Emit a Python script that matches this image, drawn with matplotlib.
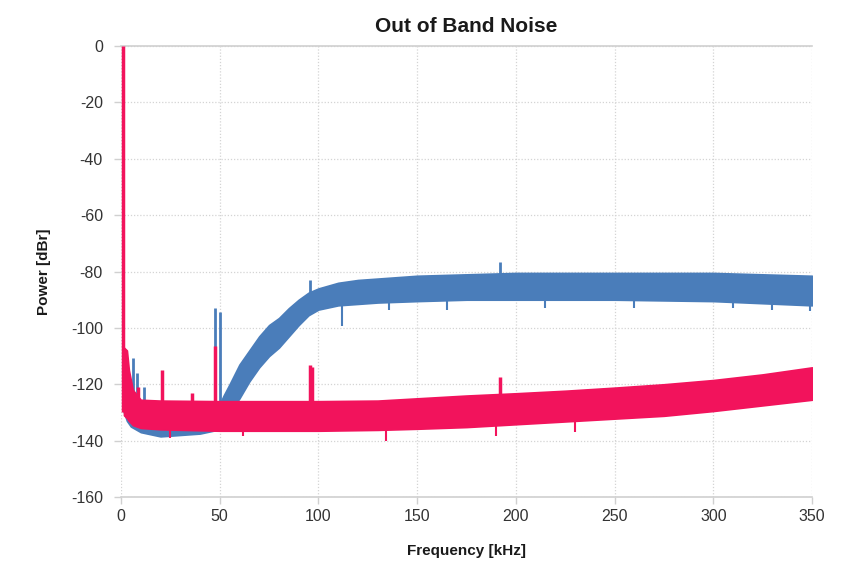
import matplotlib
matplotlib.use("Agg")
import matplotlib.pyplot as plt

# ---- data (kHz, dBr) ----
# blue trace: noise band envelope
blue_freq  = [1, 3, 5, 10, 20, 30, 40, 50, 52, 55, 60, 65, 70, 75, 80, 85, 90, 95,
              100, 110, 120, 130, 150, 175, 200, 250, 300, 350]
blue_upper = [-112, -118, -122, -126, -128, -128, -128, -127, -124, -120, -113, -108,
              -103, -99, -96.5, -93, -90, -87.5, -86, -84, -83, -82.5, -81.5, -81,
              -80.5, -80.5, -80.5, -81.5]
blue_lower = [-129, -133, -135, -137, -138.5, -138, -137.5, -136, -133, -130, -125, -119,
              -114, -110, -107, -103, -99, -95.5, -93.5, -92, -91.5, -91, -90.5, -90,
              -90, -90, -90.5, -92]
# blue spurs (upward) and dips (downward)
blue_spur_freq = [6, 8, 11.5, 47.6, 50, 95.5, 192]
blue_spur_base = [-125, -125, -127, -128, -128, -92, -88]
blue_spur_top  = [-110.7, -116, -121, -93, -94.5, -83, -76.5]
blue_dip_freq  = [112, 136, 165, 215, 260, 310, 330, 349]
blue_dip_low   = [-99.5, -93.5, -93.5, -93, -93, -93, -93.5, -94]

# pink trace: noise band envelope
pink_freq  = [1.5, 3, 4, 6, 10, 20, 50, 100, 130, 150, 175, 200, 225, 250, 275,
              300, 325, 350]
pink_upper = [-107, -108, -115, -122, -125.5, -125.8, -126, -126, -125.8, -125,
              -124, -123.2, -122.3, -121.2, -120, -118.5, -116.5, -114]
pink_lower = [-131, -132, -133, -134.5, -135.5, -136, -136.5, -136.5, -136.2, -135.8,
              -135.2, -134.2, -133.2, -132.2, -131.2, -129.5, -127.5, -125.5]
pink_spur_freq = [1.2, 8.7, 20.7, 36, 47.5, 95.5, 96.5, 192]
pink_spur_top  = [0, -121, -115, -123, -106.5, -113, -114, -117.5]
pink_dip_freq  = [25, 62, 134, 190, 230]
pink_dip_low   = [-139, -138.5, -140, -138.5, -137]

x_ticks = [0, 50, 100, 150, 200, 250, 300, 350]
y_ticks = [0, -20, -40, -60, -80, -100, -120, -140, -160]

blue = "#4A7DBA"
pink = "#F2135C"

plt.rcParams['font.family'] = ['Liberation Sans', 'DejaVu Sans']
plt.rcParams['axes.unicode_minus'] = False

fig = plt.figure(figsize=(8.49, 5.62), dpi=100)
ax = fig.add_axes([0.1425, 0.1157, 0.8139, 0.8023])

# blue
ax.fill_between(blue_freq, blue_lower, blue_upper, color=blue, lw=1.2, ec=blue, zorder=2)
ax.vlines(blue_spur_freq, blue_spur_base, blue_spur_top, color=blue, lw=2, zorder=2)
ax.vlines(blue_dip_freq, blue_dip_low, -88, color=blue, lw=1.5, zorder=2)

# pink on top
ax.fill_between(pink_freq, pink_lower, pink_upper, color=pink, lw=1.2, ec=pink, zorder=3)
ax.vlines(pink_spur_freq, -130, pink_spur_top, color=pink, lw=2.5, zorder=3)
ax.vlines(pink_dip_freq, pink_dip_low, -130, color=pink, lw=1.5, zorder=3)

ax.set_xlim(0, 350)
ax.set_ylim(-160, 0)
ax.set_xticks(x_ticks)
ax.set_yticks(y_ticks)

ax.grid(True, color="#d4d4d4", linestyle=(0, (1, 1.5)), linewidth=0.9, zorder=0)
ax.set_axisbelow(True)
for side in ["left", "right"]:
    ax.spines[side].set_visible(False)
for side in ["top", "bottom"]:
    ax.spines[side].set_color("#d0d0d0")
    ax.spines[side].set_linewidth(1.2)

ax.tick_params(axis="both", colors="#d0d0d0", labelcolor="#333333",
               labelsize=11.5, length=5, width=1)
ax.tick_params(axis="y", pad=8)
ax.tick_params(axis="x", pad=4)

ax.set_title("Out of Band Noise", fontsize=15, fontweight="bold", color="#1a1a1a", pad=10)
ax.set_xlabel("Frequency [kHz]", fontsize=11, fontweight="bold", color="#1a1a1a", labelpad=14)
ax.set_ylabel("Power [dBr]", fontsize=11, fontweight="bold", color="#1a1a1a", labelpad=14)

fig.savefig("out.png", dpi=100, facecolor="white")
